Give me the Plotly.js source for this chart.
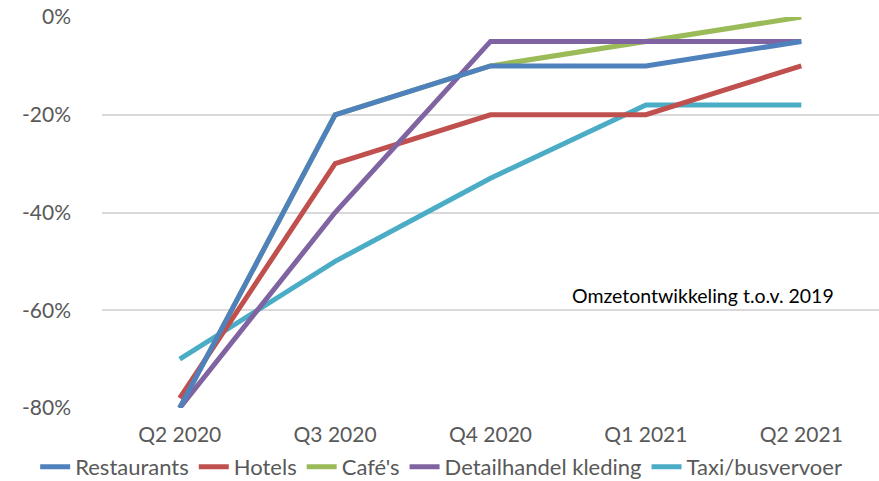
<!DOCTYPE html>
<html><head><meta charset="utf-8">
<script src="https://cdn.plot.ly/plotly-3.0.1.min.js"></script>
<style>body{margin:0;background:#fff}</style>
</head><body><div id="chart" style="width:879px;height:481px"></div>
<script>
const categories = ["Q2 2020","Q3 2020","Q4 2020","Q1 2021","Q2 2021"];
const restaurants = [-80,-20,-10,-10,-5];
const hotels = [-78,-30,-20,-20,-10];
const cafes = [-80,-20,-10,-5,0];
const kleding = [-80,-40,-5,-5,-5];
const taxi = [-70,-50,-33,-18,-18];
const seriesNames = ["Restaurants","Hotels","Café's","Detailhandel kleding","Taxi/busvervoer"];
const colors = ["#4F81BD","#C0504D","#9BBB59","#8064A2","#4BACC6"];
const yTicks = [0,-20,-40,-60,-80];
const yTickLabels = ["0%","-20%","-40%","-60%","-80%"];
const note = "Omzetontwikkeling t.o.v. 2019";

const order = [2,4,1,3,0];
const all = [restaurants,hotels,cafes,kleding,taxi];
const traces = order.map(i => ({
  x: categories, y: all[i], name: seriesNames[i], type: "scatter", mode: "lines",
  line: {color: colors[i], width: 5}, legendrank: i+1, cliponaxis: false
}));
const layout = {
  width: 879, height: 481,
  margin: {l: 102, r: 0, t: 17, b: 73, autoexpand: false},
  paper_bgcolor: "#fff", plot_bgcolor: "#fff",
  font: {family: "Lato, 'Open Sans', sans-serif", size: 21, color: "#595959"},
  xaxis: {type: "category", range: [-0.5, 4.5], showgrid: false, zeroline: false,
          showline: false, ticks: "", ticklabelstandoff: 12, fixedrange: true, automargin: false},
  yaxis: {range: [-80, 0], tickvals: yTicks, ticktext: yTickLabels, showgrid: true,
          gridcolor: "#d9d9d9", gridwidth: 2, zeroline: false, showline: false,
          ticks: "", ticklabelstandoff: 30, automargin: false},
  showlegend: true,
  legend: {orientation: "h", x: -0.086, xanchor: "left",
           y: -0.151, yanchor: "middle",
           font: {size: 22, color: "#595959"}, traceorder: "normal", itemwidth: 30},
  annotations: [{text: note, xref: "paper", yref: "y", x: 0.945, y: -57, xanchor: "right",
                 yanchor: "middle", showarrow: false, font: {size: 19.5, color: "#000"}}]
};
Plotly.newPlot("chart", traces, layout, {displayModeBar: false, staticPlot: true});
</script></body></html>
